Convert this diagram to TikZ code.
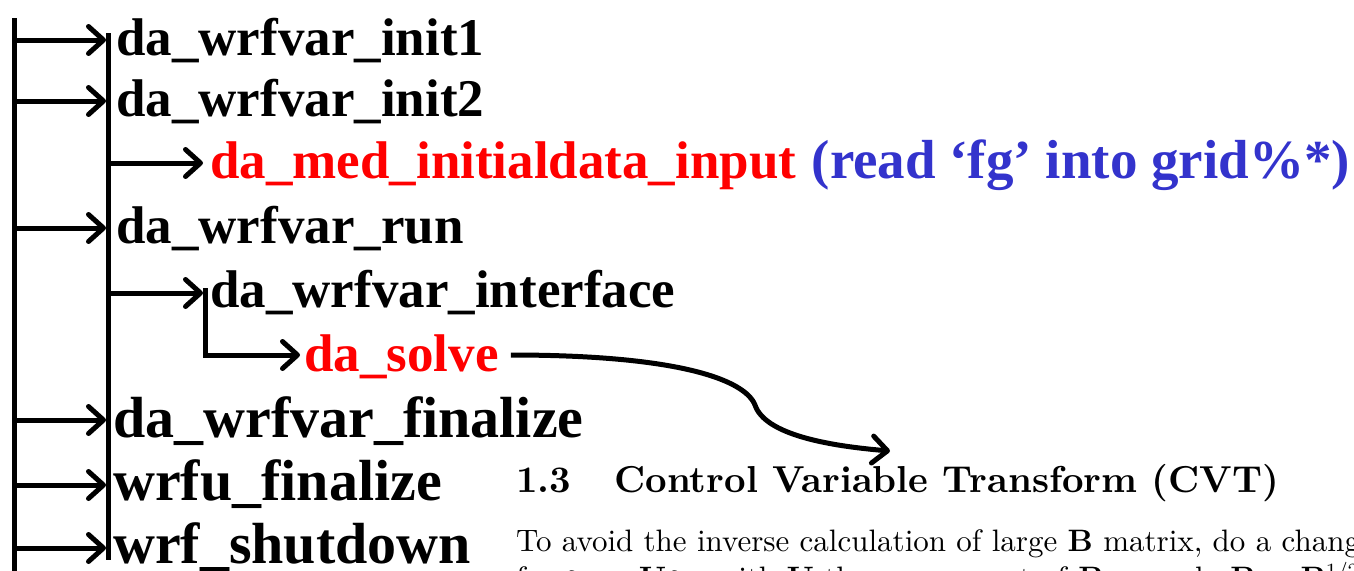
\documentclass[tikz,border=0pt]{standalone}
\usepackage{fontspec}
\newfontfamily\codefont{Liberation Serif}
\newfontfamily\docfont{lmroman10-regular.otf}[BoldFont=lmroman10-bold.otf]
\usetikzlibrary{arrows.meta,calc}

\definecolor{callred}{RGB}{255,0,0}
\definecolor{noteblue}{RGB}{51,51,204}

\tikzset{
  flow/.style={line width=5pt},
  barb/.style={-{Straight Barb[length=15pt,width=27pt,round]}},
  callarrow/.style={flow, barb, shorten >=#1},
  callarrow/.default=10pt,
  routine/.style={anchor=base west, inner sep=0pt,
    font=\codefont\bfseries\fontsize{53}{60}\selectfont},
  bigroutine/.style={routine,
    font=\codefont\bfseries\fontsize{58}{64}\selectfont},
  notetext/.style={routine,
    font=\codefont\bfseries\fontsize{55}{62}\selectfont},
  doctext/.style={anchor=base west, inner sep=0pt,
    font=\docfont\fontsize{31}{37}\selectfont},
  dochead/.style={anchor=base west, inner sep=0pt,
    font=\docfont\fontsize{37.5}{45}\selectfont\bfseries},
}

\begin{document}
\begin{tikzpicture}[x=1pt,y=-1pt]
\useasboundingbox (0,0) rectangle (1354,570);
\clip (0,0) rectangle (1354,570);

% rails of the call tree
\coordinate (trunktop) at (14,18);
\coordinate (trunkbot) at (14,580);
\coordinate (railtop) at (108,33);
\coordinate (railbot) at (108,560);
\draw[flow] (trunktop) -- (trunkbot);
\draw[flow] (railtop) -- (railbot);

% routine names
\node[routine] (init1) at (116,55) {da\_wrfvar\_init1};
\node[routine] (init2) at (116,116) {da\_wrfvar\_init2};
\node[routine,text=callred] (medin) at (210,178) {da\_med\_initialdata\_input};
\node[notetext,text=noteblue] (note) at ($(medin.base east)+(15,0)$) {(read ‘fg’ into grid\%*)};
\node[routine] (run) at (116,243) {da\_wrfvar\_run};
\node[routine] (iface) at (210,307) {da\_wrfvar\_interface};
\node[routine,text=callred] (solve) at (304,371) {da\_solve};
\node[bigroutine] (final) at (113,437) {da\_wrfvar\_finalize};
\node[bigroutine] (wrfu) at (113,500) {wrfu\_finalize};
\node[bigroutine] (shut) at (113,563) {wrf\_shutdown};

% branch points on the rails
\coordinate (c1) at (14,40);
\coordinate (c2) at (14,101);
\coordinate (c4) at (14,228);
\coordinate (c7) at (14,420);
\coordinate (c8) at (14,485);
\coordinate (c9) at (14,548);
\coordinate (b3) at (108,163);
\coordinate (b5) at (108,293);
\coordinate (subtop) at (205,288);
\coordinate (subbend) at (205,355);

% calls
\draw[callarrow] (c1) -- (c1 -| init1.west);
\draw[callarrow] (c2) -- (c2 -| init2.west);
\draw[callarrow=7pt] (b3) -- (b3 -| medin.west);
\draw[callarrow] (c4) -- (c4 -| run.west);
\draw[callarrow=7pt] (b5) -- (b5 -| iface.west);
\draw[callarrow=4pt] (subtop) -- (subbend) -- (subbend -| solve.west);
\draw[callarrow=7pt] (c7) -- (c7 -| final.west);
\draw[callarrow=7pt] (c8) -- (c8 -| wrfu.west);
\draw[callarrow=7pt] (c9) -- (c9 -| shut.west);

% document excerpt
\node[dochead] (cvthead) at (516,492) {1.3\hspace{1.15em}Control Variable Transform (CVT)};
\node[doctext] (body1) at (516,551) {To avoid the inverse calculation of large \textbf{B} matrix, do a change};
\node[doctext] (body2) at (516,588) {for $\delta$\textbf{x} = \textbf{U}$\delta$\textbf{v}, with \textbf{U} the square root of \textbf{B}, namely \textbf{B} = \textbf{B}\textsuperscript{1/2}\textbf{B}\textsuperscript{T/2}};

% link from da_solve to the CVT section
\coordinate (cvt) at (890,451);
\draw[flow,barb] ($(solve.base east)+(12,-16)$)
  .. controls (680,355) and (745,380) .. (755,405)
  .. controls (765,435) and (830,446) .. (cvt);
\end{tikzpicture}
\end{document}
